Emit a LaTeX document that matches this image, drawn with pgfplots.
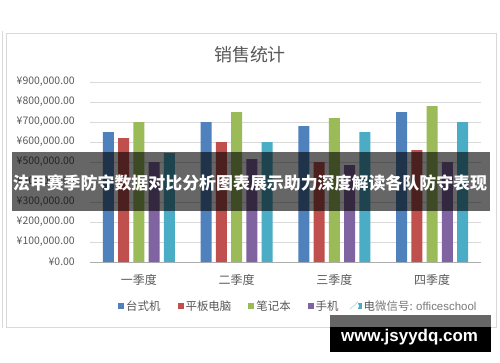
\documentclass[border=0pt]{standalone}
\usepackage{fontspec}
\setmainfont{Noto Sans CJK SC}
\newfontfamily\lat{Liberation Sans}
\usepackage{pgfplots}
\pgfplotsset{compat=1.18}
\definecolor{c1}{HTML}{4F81BD}
\definecolor{c2}{HTML}{C0504D}
\definecolor{c3}{HTML}{9BBB59}
\definecolor{c4}{HTML}{8064A2}
\definecolor{c5}{HTML}{4BACC6}
\definecolor{txt}{HTML}{595959}
\definecolor{gridc}{HTML}{D9D9D9}
\begin{document}
\begin{tikzpicture}[x=1bp,y=1bp]
\useasboundingbox (0,0) rectangle (500,362);
\fill[white] (0,0) rectangle (500,362);
\draw[gridc, line width=0.8bp] (2,331) -- (2,34);
\draw[gridc, line width=1bp] (6,35) rectangle (496,329);
\node[text=txt, font=\fontsize{18}{20}\selectfont] at (250,307) {销售统计};
\begin{axis}[
  at={(90bp,100bp)}, anchor=south west, scale only axis,
  width=391bp, height=180bp,
  ybar=4.3bp, bar width=11bp,
  ymin=0, ymax=900000, xmin=-0.5, xmax=3.5,
  xtick={0,1,2,3}, xticklabels={一季度,二季度,三季度,四季度},
  ytick={0,100000,200000,300000,400000,500000,600000,700000,800000,900000},
  yticklabels={{¥0.00},{¥100,000.00},{¥200,000.00},{¥300,000.00},{¥400,000.00},{¥500,000.00},{¥600,000.00},{¥700,000.00},{¥800,000.00},{¥900,000.00}},
  scaled y ticks=false,
  ymajorgrids, grid style={gridc, line width=0.8bp},
  separate axis lines, axis x line*=bottom, axis y line*=left,
  y axis line style={draw=none}, x axis line style={draw=gridc!80!black, line width=0.8bp},
  major tick length=0pt, tick style={draw=none},
  yticklabel style={font=\fontsize{10.5}{12}\selectfont, text=txt, anchor=east, inner sep=0pt, xshift=-15bp},
  xticklabel style={font=\fontsize{12}{14}\selectfont, text=txt, anchor=center, inner sep=0pt, yshift=-18bp},
  legend columns=5,
  legend style={draw=none, fill=none, at={(0.0716,-0.2444)}, anchor=west, inner sep=0pt,
    font=\fontsize{11.5}{13}\selectfont, text=txt,
    /tikz/every even column/.append style={column sep=15bp}},
  legend image code/.code={\fill[#1] (0bp,-3bp) rectangle (6bp,3bp);},
]
\addplot[fill=c1, draw=none] coordinates {(0,650000) (1,700000) (2,680000) (3,750000)};
\addlegendentry{台式机}
\addplot[fill=c2, draw=none] coordinates {(0,620000) (1,600000) (2,500000) (3,560000)};
\addlegendentry{平板电脑}
\addplot[fill=c3, draw=none] coordinates {(0,700000) (1,750000) (2,720000) (3,780000)};
\addlegendentry{笔记本}
\addplot[fill=c4, draw=none] coordinates {(0,500000) (1,515000) (2,485000) (3,500000)};
\addlegendentry{手机}
\addplot[fill=c5, draw=none] coordinates {(0,545000) (1,600000) (2,650000) (3,700000)};
\addlegendentry{电视}
\end{axis}
% overlay banner
\fill[black, opacity=0.6] (12,151) rectangle (490,210);
\node[text=white, font=\fontsize{17}{19}\selectfont\bfseries] at (250,179) {法甲赛季防守数据对比分析图表展示助力深度解读各队防守表现};
% legend watermark
\node[anchor=west, fill=white, inner sep=0bp, text=txt!80, font=\fontsize{11.5}{13}\selectfont] at (375,56) {微信号: {\lat officeschool}};
\fill[white] (354,56) circle (5);
\draw[c5!40, line width=0.8bp] (350,53) -- (358,60);
% bottom watermark
\fill[black, opacity=0.6] (330,35) rectangle (491,47);
\fill[black] (330,10) rectangle (491,35);
\node[text=white, font=\fontsize{17}{19}\selectfont\lat\bfseries] at (409.5,25) {www.jsyydq.com};
\end{tikzpicture}
\end{document}
